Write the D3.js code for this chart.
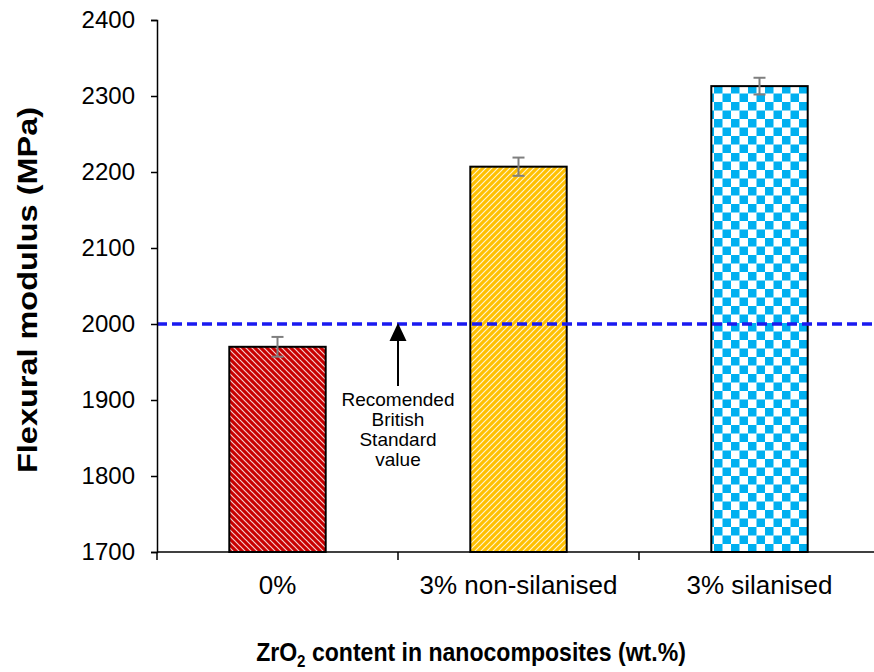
<!DOCTYPE html>
<html>
<head>
<meta charset="utf-8">
<script src="https://cdn.jsdelivr.net/npm/d3@7"></script>
<style>
  html, body { margin: 0; padding: 0; background: #fff; }
  svg { display: block; font-family: Arial, "Liberation Sans", sans-serif; }
</style>
</head>
<body>
<svg id="chart" width="874" height="672"></svg>
<script>
// Flexural modulus of ZrO2 nanocomposites
const categories = ["0%", "3% non-silanised", "3% silanised"];
const modulus = [1970, 2207, 2313];
const modulusErr = [13, 12, 11];
const yTicks = [1700, 1800, 1900, 2000, 2100, 2200, 2300, 2400];
const standardValue = 2000;
const noteLines = ["Recomended", "British", "Standard", "value"];

const FONT = "Arial, 'Liberation Sans', sans-serif";
const svg = d3.select("#chart");
const margin = { left: 157, top: 20, right: -6, bottom: 120 };
const W = 874, H = 672;

const x = d3.scaleBand()
  .domain(categories)
  .range([margin.left, W - margin.right])
  .paddingInner(0.6)
  .paddingOuter(0.3);

const y = d3.scaleLinear()
  .domain([1700, 2400])
  .range([H - margin.bottom, margin.top]);

// fill patterns
const defs = svg.append("defs");

const red = defs.append("pattern")
  .attr("id", "pRed").attr("patternUnits", "userSpaceOnUse")
  .attr("width", 6).attr("height", 6);
red.append("rect").attr("width", 6).attr("height", 6).attr("fill", "#C80000");
red.append("path").attr("d", "M0,0 L6,6 M-3,3 L3,9 M3,-3 L9,3")
  .attr("stroke", "#fff").attr("stroke-width", 1.2).attr("opacity", 0.8);

const yel = defs.append("pattern")
  .attr("id", "pYellow").attr("patternUnits", "userSpaceOnUse")
  .attr("width", 6).attr("height", 6);
yel.append("rect").attr("width", 6).attr("height", 6).attr("fill", "#FFC000");
yel.append("path").attr("d", "M0,6 L6,0 M-3,3 L3,-3 M3,9 L9,3")
  .attr("stroke", "#fff").attr("stroke-width", 1.2).attr("opacity", 0.8);

const blu = defs.append("pattern")
  .attr("id", "pBlue").attr("patternUnits", "userSpaceOnUse")
  .attr("width", 17).attr("height", 17);
blu.append("rect").attr("width", 17).attr("height", 17).attr("fill", "#fff");
blu.append("rect").attr("width", 8.5).attr("height", 8.5).attr("fill", "#00B0F0");
blu.append("rect").attr("x", 8.5).attr("y", 8.5).attr("width", 8.5).attr("height", 8.5).attr("fill", "#00B0F0");

const fills = ["url(#pRed)", "url(#pYellow)", "url(#pBlue)"];

// bars
svg.append("g").selectAll("rect")
  .data(categories)
  .join("rect")
  .attr("x", d => x(d))
  .attr("y", (d, i) => y(modulus[i]))
  .attr("width", x.bandwidth())
  .attr("height", (d, i) => y(1700) - y(modulus[i]))
  .attr("fill", (d, i) => fills[i])
  .attr("stroke", "#000")
  .attr("stroke-width", 2);

// error bars
const eb = svg.append("g").attr("stroke", "#7F7F7F").attr("stroke-width", 2);
categories.forEach((c, i) => {
  const cx = x(c) + x.bandwidth() / 2;
  const top = y(modulus[i] + modulusErr[i]);
  const bot = y(modulus[i] - modulusErr[i]);
  eb.append("line").attr("x1", cx).attr("x2", cx).attr("y1", top).attr("y2", bot);
  eb.append("line").attr("x1", cx - 6).attr("x2", cx + 6).attr("y1", top).attr("y2", top);
  eb.append("line").attr("x1", cx - 6).attr("x2", cx + 6).attr("y1", bot).attr("y2", bot);
});

// reference line
svg.append("line")
  .attr("x1", margin.left).attr("x2", W)
  .attr("y1", y(standardValue)).attr("y2", y(standardValue))
  .attr("stroke", "#1A1AF0").attr("stroke-width", 3.5)
  .attr("stroke-dasharray", "10 5");

// y axis
const yAxis = svg.append("g")
  .attr("transform", `translate(${margin.left},0)`)
  .call(d3.axisLeft(y).tickValues(yTicks).tickSize(6).tickPadding(16).tickFormat(d3.format("d")));
yAxis.select(".domain").attr("stroke", "#000").attr("stroke-width", 1.5);
yAxis.selectAll(".tick line").attr("stroke", "#000").attr("stroke-width", 1.5);
yAxis.selectAll("text").attr("font-size", 24).attr("fill", "#000").attr("font-family", FONT);

// x axis with ticks at category boundaries
const xBase = y(1700);
const xg = svg.append("g");
xg.append("line").attr("x1", margin.left).attr("x2", W - margin.right)
  .attr("y1", xBase).attr("y2", xBase).attr("stroke", "#000").attr("stroke-width", 1.5);
const step = x.step();
const bounds = d3.range(categories.length + 1).map(i => x(categories[0]) - x.paddingOuter() * step + i * step);
xg.selectAll(".xt").data(bounds).join("line")
  .attr("x1", d => d).attr("x2", d => d)
  .attr("y1", xBase).attr("y2", xBase + 8)
  .attr("stroke", "#000").attr("stroke-width", 1.5);
xg.selectAll(".xl").data(categories).join("text")
  .attr("x", d => x(d) + x.bandwidth() / 2)
  .attr("y", xBase + 42)
  .attr("text-anchor", "middle")
  .attr("font-size", 26)
  .text(d => d);

// annotation arrow pointing at the standard line
const ax = bounds[1];
const tipY = y(standardValue) - 1;
svg.append("line")
  .attr("x1", ax).attr("x2", ax)
  .attr("y1", 386).attr("y2", tipY + 16)
  .attr("stroke", "#000").attr("stroke-width", 2);
svg.append("path")
  .attr("d", `M${ax},${tipY} L${ax - 8.5},${tipY + 18} L${ax + 8.5},${tipY + 18} Z`)
  .attr("fill", "#000");
svg.append("text")
  .attr("x", ax).attr("y", 406)
  .attr("text-anchor", "middle").attr("font-size", 19)
  .selectAll("tspan").data(noteLines).join("tspan")
  .attr("x", ax).attr("dy", (d, i) => i === 0 ? 0 : 20)
  .text(d => d);

// y axis title, set to a fixed length along the axis
svg.append("text")
  .attr("transform", `translate(37,290) rotate(-90)`)
  .attr("x", -183)
  .attr("font-size", 27).attr("font-weight", "bold")
  .attr("textLength", 366).attr("lengthAdjust", "spacingAndGlyphs")
  .text("Flexural modulus (MPa)");

// x axis title with subscript
const xtG = svg.append("g");
const xt = xtG.append("text")
  .attr("x", 0).attr("y", 0)
  .attr("text-anchor", "middle")
  .attr("font-size", 26).attr("font-weight", "bold");
xt.append("tspan").text("ZrO");
xt.append("tspan").attr("font-size", 17).attr("dy", 6).text("2");
xt.append("tspan").attr("dy", -6).text(" content in nanocomposites (wt.%)");
const xtWidth = xt.node().getBBox().width;
xtG.attr("transform", `translate(471,661) scale(${430 / xtWidth},1)`);
</script>
</body>
</html>
